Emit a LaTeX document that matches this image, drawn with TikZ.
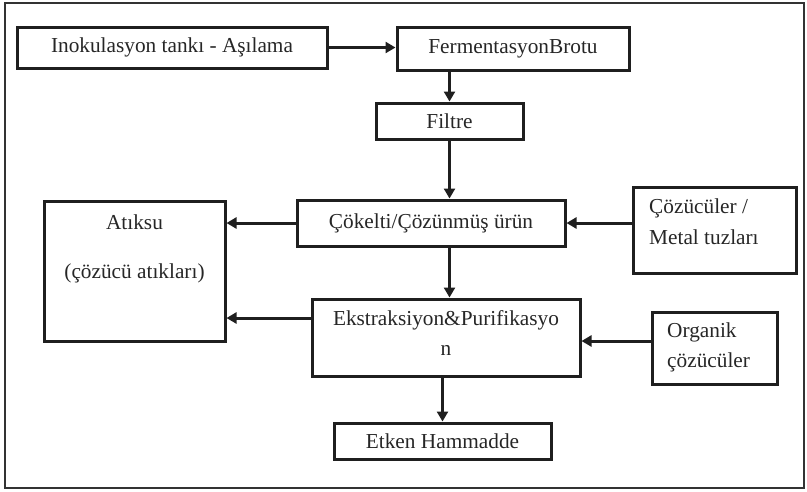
\documentclass[tikz,border=0pt]{standalone}
\usepackage{fontspec}
\setmainfont{Liberation Serif}
\usetikzlibrary{arrows.meta}
\begin{document}
\begin{tikzpicture}[x=1pt,y=-1pt,
  box/.style={draw=black!88, line width=3pt, minimum width=#1, inner sep=0pt},
  lbl/.style={font=\fontsize{21.3}{24}\selectfont, inner sep=0pt, text=black!85},
  arr/.style={draw=black!88, line width=3pt, -{Triangle[length=10pt,width=11pt]}}]
\useasboundingbox (0,0) rectangle (807,491);
% outer frame
\draw[black!80, line width=2pt] (5,3) rectangle (804,488);

% process boxes
\node[box=310, minimum height=41] (inok) at (172,47.5) {};
\node[lbl] at (inok) {Inokulasyon tankı - Aşılama};
\node[box=232, minimum height=43] (ferm) at (513,48.5) {};
\node[lbl] at (ferm) {FermentasyonBrotu};
\node[box=147, minimum height=36] (filt) at (449.5,121) {};
\node[lbl] at (filt) {Filtre};
\node[box=268, minimum height=46] (cok) at (431,223) {};
\node[lbl] at (cok) {Çökelti/Çözünmüş ürün};
\node[box=181, minimum height=140] (atik) at (134.5,271) {};
\node[lbl] (atik1) at (134.5,222) {Atıksu};
\node[lbl] (atik2) at (134.5,273) {(çözücü atıkları)};
\node[box=268, minimum height=77] (ekst) at (446,337.5) {};
\node[lbl] (ekst1) at (446,320) {Ekstraksiyon\&Purifikasyo};
\node[lbl] (ekst2) at (446,350) {n};
\node[box=217, minimum height=36] (etk) at (442.5,441) {};
\node[lbl] at (etk) {Etken Hammadde};
\node[box=163, minimum height=86] (coz) at (714.5,230) {};
\node[lbl, anchor=west] (coz1) at (649,208) {Çözücüler /};
\node[lbl, anchor=west] (coz2) at (649,237) {Metal tuzları};
\node[box=125, minimum height=72] (org) at (714.5,348) {};
\node[lbl, anchor=west] (org1) at (667,332) {Organik};
\node[lbl, anchor=west] (org2) at (667,362) {çözücüler};

% connectors
\draw[arr] (inok.east) -- (inok.east -| ferm.west);
\draw[arr] (filt.north |- ferm.south) -- (filt.north);
\draw[arr] (filt.south) -- (filt.south |- cok.north);
\draw[arr] (cok.west) -- (atik.east |- cok.west);
\draw[arr] (coz.west |- cok.east) -- (cok.east);
\draw[arr] (filt.south |- cok.south) -- (filt.south |- ekst.north);
\coordinate (ekstw) at ([yshift=19.5pt]ekst.west);
\draw[arr] (ekstw) -- (atik.east |- ekstw);
\coordinate (eksto) at ([yshift=-3.5pt]ekst.east);
\draw[arr] (org.west |- eksto) -- (eksto);
\draw[arr] (etk.north |- ekst.south) -- (etk.north);
\end{tikzpicture}
\end{document}
